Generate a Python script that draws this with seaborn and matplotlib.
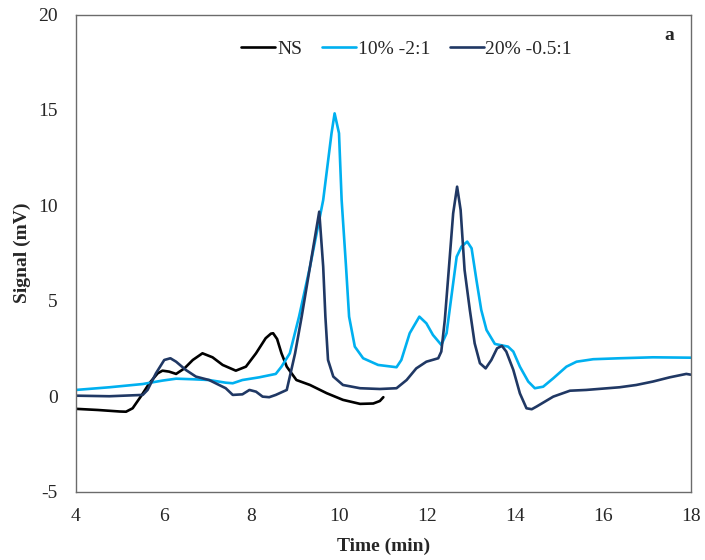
import matplotlib
matplotlib.use("Agg")
import matplotlib.pyplot as plt
import numpy as np
import pandas as pd
import seaborn as sns

# Chromatogram traces: retention time (min) and detector signal (mV)
ns_time = [4.0, 4.5, 5.0, 5.14, 5.29, 5.48, 5.67, 5.86, 5.97, 6.12, 6.28, 6.47,
           6.66, 6.88, 7.11, 7.34, 7.64, 7.87, 8.10, 8.32, 8.44, 8.49, 8.58,
           8.68, 8.80, 8.91, 9.02, 9.33, 9.71, 10.08, 10.47, 10.77, 10.92, 11.0]
ns_signal = [-0.66, -0.72, -0.80, -0.81, -0.63, 0.0, 0.68, 1.20, 1.34, 1.29, 1.17,
             1.46, 1.90, 2.25, 2.04, 1.64, 1.34, 1.55, 2.25, 3.04, 3.28, 3.30, 3.0,
             2.25, 1.55, 1.20, 0.85, 0.59, 0.16, -0.19, -0.40, -0.38, -0.25, -0.05]

blue_time = [4.0, 4.76, 5.52, 5.97, 6.28, 6.66, 7.03, 7.41, 7.57, 7.79, 8.17,
             8.55, 8.68, 8.87, 9.08, 9.33, 9.63, 9.82, 9.89, 9.99, 10.05, 10.15,
             10.22, 10.35, 10.54, 10.88, 11.30, 11.41, 11.60, 11.82, 11.98, 12.13,
             12.32, 12.44, 12.55, 12.67, 12.78, 12.91, 13.01, 13.12, 13.23, 13.35,
             13.54, 13.84, 13.96, 14.11, 14.30, 14.45, 14.64, 14.87, 15.17, 15.40,
             15.78, 16.38, 17.14, 18.0]
blue_signal = [0.33, 0.47, 0.64, 0.82, 0.92, 0.89, 0.85, 0.71, 0.68, 0.85, 0.99,
               1.17, 1.55, 2.25, 4.17, 6.79, 10.28, 13.78, 14.82, 13.78, 10.28,
               6.79, 4.17, 2.60, 1.99, 1.64, 1.52, 1.90, 3.30, 4.17, 3.82, 3.21,
               2.69, 3.30, 5.22, 7.31, 7.84, 8.10, 7.75, 6.09, 4.52, 3.47, 2.74,
               2.60, 2.34, 1.55, 0.77, 0.42, 0.50, 0.94, 1.55, 1.81, 1.94, 1.99,
               2.04, 2.02]

navy_time = [4.0, 4.76, 5.52, 5.63, 5.82, 6.01, 6.15, 6.28, 6.50, 6.73, 7.03,
             7.26, 7.41, 7.57, 7.79, 7.95, 8.10, 8.25, 8.40, 8.55, 8.80, 8.87,
             8.99, 9.14, 9.33, 9.54, 9.63, 9.68, 9.74, 9.86, 10.08, 10.47, 10.92,
             11.30, 11.53, 11.75, 11.98, 12.25, 12.32, 12.40, 12.49, 12.59, 12.68,
             12.76, 12.85, 12.97, 13.08, 13.20, 13.33, 13.46, 13.59, 13.70, 13.80,
             13.96, 14.11, 14.26, 14.38, 14.49, 14.87, 15.25, 15.62, 16.38, 16.76,
             17.14, 17.52, 17.90, 18.0]
navy_signal = [0.03, 0.0, 0.07, 0.33, 1.20, 1.90, 1.99, 1.81, 1.38, 1.03, 0.85,
               0.59, 0.42, 0.07, 0.10, 0.33, 0.24, -0.02, -0.05, 0.07, 0.33, 1.03,
               2.25, 4.17, 6.79, 9.67, 6.79, 4.17, 1.90, 1.03, 0.59, 0.42, 0.38,
               0.42, 0.85, 1.46, 1.81, 1.99, 2.34, 4.0, 6.62, 9.58, 10.98, 9.76,
               6.62, 4.52, 2.77, 1.73, 1.46, 1.90, 2.51, 2.64, 2.34, 1.38, 0.15,
               -0.63, -0.68, -0.54, -0.02, 0.29, 0.33, 0.47, 0.59, 0.77, 0.99,
               1.17, 1.13]

series_names = ["NS", "10% -2:1", "20% -0.5:1"]
series_colors = ["#000000", "#00B0F0", "#203864"]

x_ticks = [4, 6, 8, 10, 12, 14, 16, 18]
y_ticks = [-5, 0, 5, 10, 15, 20]

frames = []
for name, t, s in zip(series_names,
                      [ns_time, blue_time, navy_time],
                      [ns_signal, blue_signal, navy_signal]):
    frames.append(pd.DataFrame({"Time": t, "Signal": s, "Sample": name}))
data = pd.concat(frames, ignore_index=True)

sns.set_style("white")
plt.rcParams["font.family"] = ["Liberation Serif", "DejaVu Serif"]

fig = plt.figure(figsize=(7.05, 5.6), dpi=100)
ax = fig.add_axes([0.1078, 0.1220, 0.8719, 0.8521])

sns.lineplot(data=data, x="Time", y="Signal", hue="Sample",
             hue_order=series_names, palette=series_colors,
             linewidth=1.9, sort=False, estimator=None, ax=ax)

ax.set_xlim(4, 18)
ax.set_ylim(-5, 20)
ax.set_xticks(x_ticks)
ax.set_yticks(y_ticks)
ax.set_xticklabels([str(v) for v in x_ticks], fontsize=14)
ax.set_yticklabels([str(v) for v in y_ticks], fontsize=14)

for sp in ax.spines.values():
    sp.set_color("#6b6b6b")
    sp.set_linewidth(1.0)

ax.tick_params(axis="x", direction="in", length=4, width=1, color="#6b6b6b", pad=12)
ax.tick_params(axis="y", direction="out", length=4, width=1, color="#6b6b6b", pad=9)

ax.set_xlabel("Time (min)", fontsize=14, fontweight="bold", labelpad=9)
ax.set_ylabel("Signal (mV)", fontsize=14, fontweight="bold", labelpad=5)

ax.legend(loc="center", bbox_to_anchor=(0.538, 0.928), ncol=3, frameon=False,
          fontsize=14, handlelength=1.75, handletextpad=0.1, columnspacing=1.0,
          borderaxespad=0)

ax.text(0.965, 0.957, "a", transform=ax.transAxes, fontsize=14,
        fontweight="bold", ha="center", va="center")

fig.savefig("out.png", dpi=100)
